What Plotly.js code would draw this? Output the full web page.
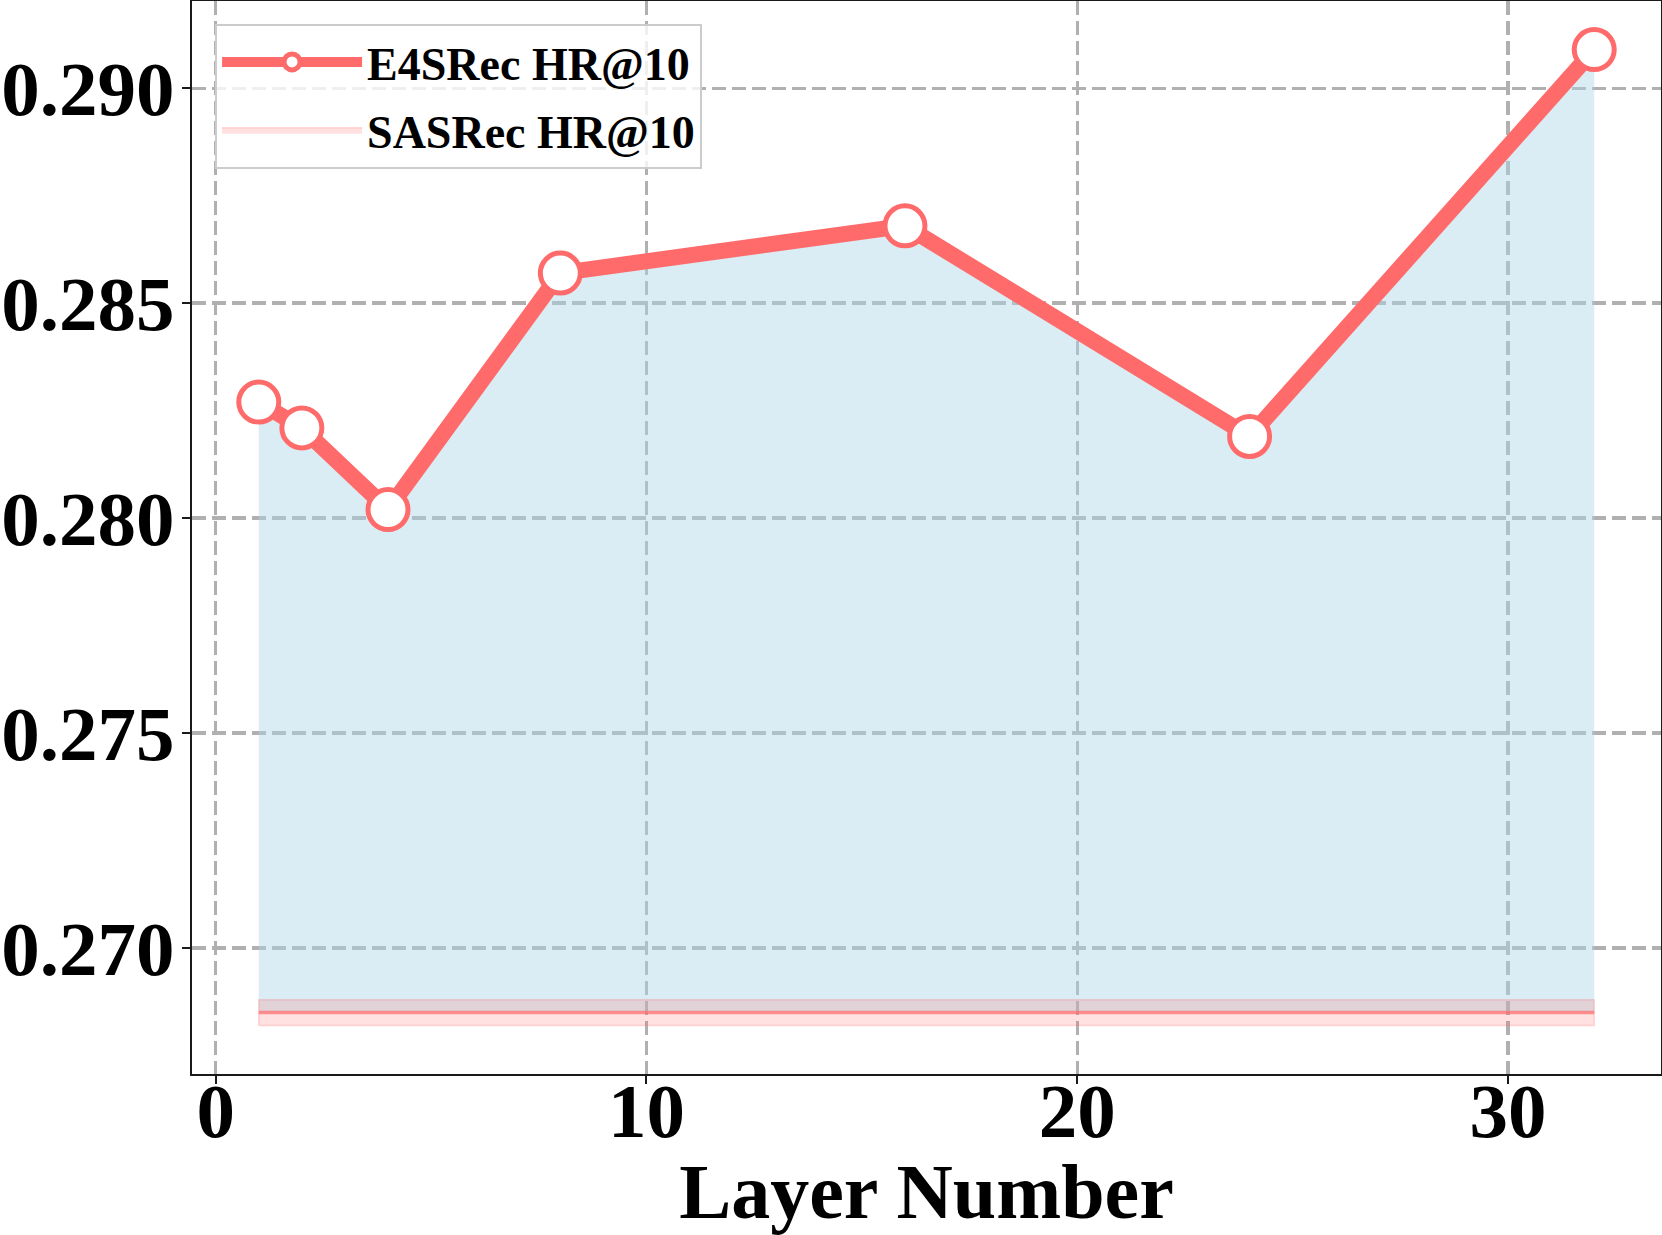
<!DOCTYPE html>
<html>
<head>
<meta charset="utf-8">
<script src="https://cdn.plot.ly/plotly-3.0.1.min.js"></script>
<style>
  html, body { margin: 0; padding: 0; background: #fff; }
  #chart { width: 1662px; height: 1235px; }
</style>
</head>
<body>
<div id="chart"></div>
<script>
// layer counts and HR@10 values
const layers = [1, 2, 4, 8, 16, 24, 32];
const e4srecHR = [0.2827, 0.2821, 0.2802, 0.2857, 0.2868, 0.2819, 0.2909];
const sasrecHR = 0.2685;      // baseline
const sasrecSpread = 0.0003;  // half-width of the shaded baseline band

const red = '#FF6B6B';
const serif = 'Liberation Serif, Times New Roman, serif';

const xEnds = [layers[0], layers[layers.length - 1]];
const baseLine = layers.map(() => sasrecHR);

// blue area between E4SRec and the baseline
const fillBase = {
    x: layers, y: baseLine, mode: 'lines',
    line: { width: 0 }, showlegend: false, hoverinfo: 'skip'
};
const fillTop = {
    x: layers, y: e4srecHR, mode: 'lines', fill: 'tonexty',
    fillcolor: 'rgba(173,216,230,0.45)',
    line: { width: 1, color: 'rgba(173,216,230,0.6)' },
    showlegend: false, hoverinfo: 'skip'
};

// SASRec band as a closed polygon
const lo = sasrecHR - sasrecSpread, hi = sasrecHR + sasrecSpread;
const band = {
    x: [xEnds[0], xEnds[1], xEnds[1], xEnds[0], xEnds[0]],
    y: [lo, lo, hi, hi, lo],
    mode: 'lines', fill: 'toself', fillcolor: 'rgba(255,107,107,0.2)',
    line: { width: 1.5, color: 'rgba(255,107,107,0.25)' },
    name: 'SASRec HR@10', legendrank: 2, legendgroup: 'b', hoverinfo: 'skip'
};
const sasrecLine = {
    x: xEnds, y: xEnds.map(() => sasrecHR), mode: 'lines',
    line: { width: 3.5, color: 'rgba(255,107,107,0.7)' },
    showlegend: false
};

const e4Trace = {
    x: layers, y: e4srecHR, mode: 'lines+markers',
    name: 'E4SRec HR@10', legendrank: 1, legendgroup: 'a',
    line: { color: red, width: 16 },
    marker: { size: 40, color: 'white', line: { color: red, width: 5 } }
};

const gridStyle = {
    showgrid: true, gridcolor: '#b0b0b0', gridwidth: 3.5, griddash: '14px,6px',
    zeroline: false, showline: true, mirror: true, linecolor: '#1a1a1a', linewidth: 2,
    ticks: 'outside', ticklen: 8, tickwidth: 2, tickcolor: '#1a1a1a',
    tickfont: { family: serif, size: 77, color: '#000', weight: 'bold' }
};

const layout = {
    width: 1662, height: 1235,
    margin: { l: 192, r: 1, t: 1, b: 161 },
    paper_bgcolor: '#fff', plot_bgcolor: '#fff',
    showlegend: true,
    xaxis: Object.assign({}, gridStyle, {
        range: [-0.55, 33.55], dtick: 10, tick0: 0,
        ticklabelstandoff: -39,
        title: { text: 'Layer Number', standoff: 12,
                 font: { family: serif, size: 78, color: '#000', weight: 'bold' } }
    }),
    yaxis: Object.assign({}, gridStyle, {
        range: [0.26707, 0.29203], dtick: 0.005, tick0: 0.27, tickformat: '.3f',
        ticklabelstandoff: -8
    }),
    legend: {
        x: 0.0157, y: 0.979, xanchor: 'left', yanchor: 'top',
        traceorder: 'grouped', tracegroupgap: 5,
        bgcolor: 'rgba(255,255,255,0.8)', bordercolor: '#cccccc', borderwidth: 2,
        font: { family: serif, size: 46, color: '#000', weight: 'bold' },
        itemwidth: 140
    }
};

Plotly.newPlot('chart', [fillBase, fillTop, band, sasrecLine, e4Trace], layout,
    { displayModeBar: false, staticPlot: true });
</script>
</body>
</html>
